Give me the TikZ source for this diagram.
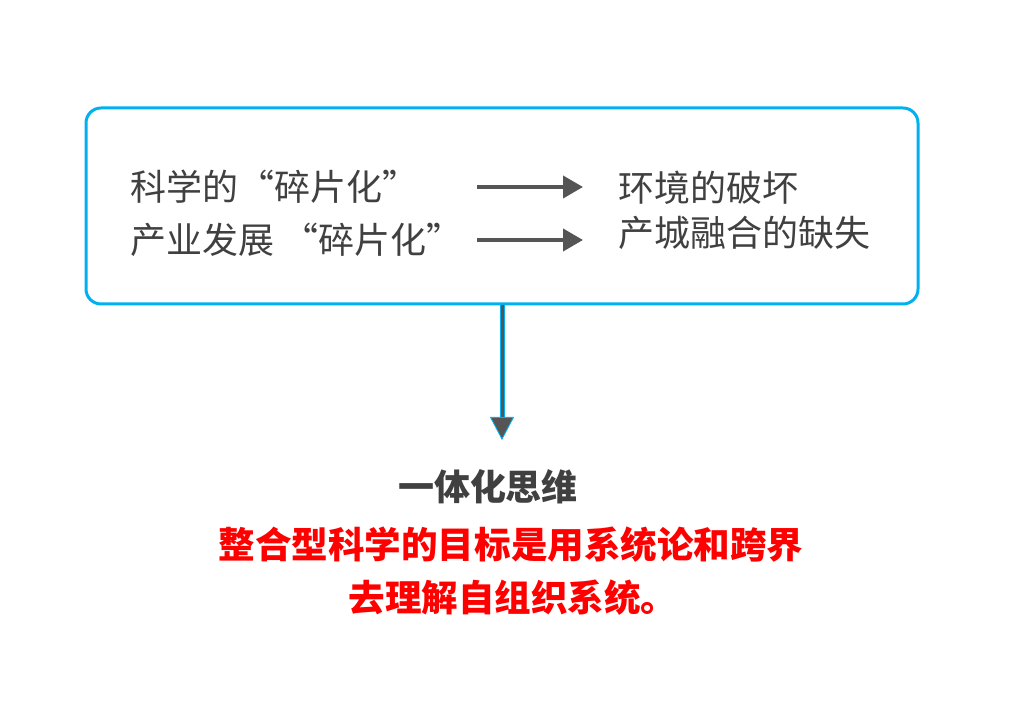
\documentclass[tikz,border=0pt]{standalone}
\usepackage{fontspec}
\setmainfont{Noto Sans CJK SC}
\usetikzlibrary{arrows.meta, positioning}
\definecolor{framecyan}{HTML}{00B0F0}
\definecolor{textgray}{HTML}{404040}
\definecolor{arrowgray}{HTML}{555555}
\definecolor{keyred}{HTML}{FF0000}

\begin{document}
\begin{tikzpicture}[
    every node/.style={inner sep=0pt, font=\fontsize{25.6pt}{30pt}\selectfont},
    frame/.style={draw=framecyan, line width=0.075cm, rounded corners=0.375cm, minimum width=20.8cm, minimum height=4.9cm},
    item/.style={anchor=west, text=textgray},
    arrow/.style={-{Triangle[length=0.5cm, width=0.55cm]}, arrowgray, line width=0.1cm},
    title/.style={text=textgray, font=\fontsize{25.6pt}{30pt}\selectfont\bfseries},
    goal/.style={text=keyred, font=\fontsize{26pt}{30pt}\selectfont\bfseries}
]
\useasboundingbox (0,0) rectangle (25.6,18.1);

% ============ FRAGMENTATION BOX ============
\node[frame] (frame) at (12.55, 12.95) {};

% Causes (left)
\node[item] (sci) at (3.25, 13.425) {科学的“碎片化”};
\node[item] (ind) at (3.25, 12.1) {产业发展 “碎片化”};

% Effects (right)
\node[item] (env) at (15.45, 13.4) {环境的破坏};
\node[item] (city) at (15.45, 12.275) {产城融合的缺失};

% Arrows between them
\coordinate (a1s) at (11.925, 13.425);
\coordinate (a1e) at (14.575, 13.425);
\coordinate (a2s) at (11.925, 12.1);
\coordinate (a2e) at (14.575, 12.1);
\draw[arrow] (a1s) -- (a1e);
\draw[arrow] (a2s) -- (a2e);

% ============ DOWN ARROW ============
\coordinate (base) at (12.55, 7.675);
\coordinate (tip) at (12.55, 7.1);
\draw[framecyan, line width=0.125cm] (frame.south) -- (base);
\draw[arrowgray, line width=0.075cm, -{Triangle[length=0.575cm, width=0.6cm, fill=arrowgray, color=framecyan, line width=0.6pt]}] (frame.south) -- (tip);

% ============ INTEGRATED THINKING ============
\node[title] (think) at (12.2, 5.925) {一体化思维};
\node[goal] (goal1) at (12.775, 4.475) {整合型科学的目标是用系统论和跨界};
\node[goal] (goal2) at (12.825, 3.15) {去理解自组织系统。};

\end{tikzpicture}
\end{document}
